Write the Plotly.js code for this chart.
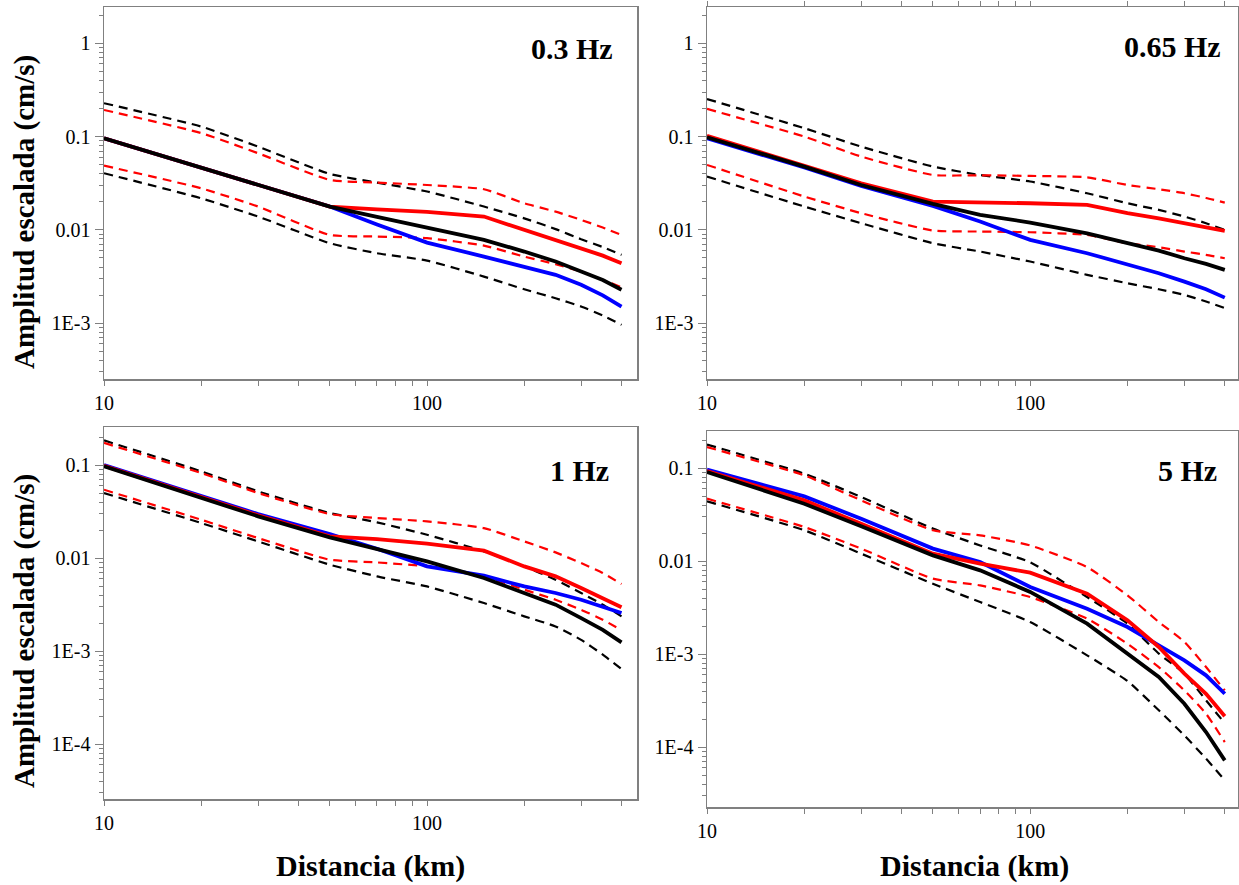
<!DOCTYPE html>
<html>
<head>
<meta charset="utf-8">
<script src="https://cdn.plot.ly/plotly-3.0.1.min.js"></script>
<style>html,body{margin:0;padding:0;background:#fff;}#chart{width:1239px;height:885px;}</style>
</head>
<body>
<div id="chart"></div>
<script>
// Distances (km)
const distance = [10, 20, 30, 50, 70, 100, 150, 200, 250, 300, 350, 400];

// 0.3 Hz
const f03_black   = [0.096, 0.0466, 0.0303, 0.0178, 0.0138, 0.0106, 0.00782, 0.00586, 0.00458, 0.00358, 0.00290, 0.00228];
const f03_blue    = [0.096, 0.0466, 0.0303, 0.0178, 0.0114, 0.0073, 0.00518, 0.00405, 0.0033, 0.00258, 0.00199, 0.00151];
const f03_red     = [0.096, 0.0466, 0.0303, 0.0178, 0.0166, 0.0156, 0.0139, 0.0100, 0.00794, 0.00637, 0.0053, 0.0044];
const f03_blackUp = [0.228, 0.128, 0.0781, 0.0398, 0.0321, 0.0258, 0.0178, 0.0133, 0.0102, 0.00794, 0.00655, 0.0054];
const f03_blackLo = [0.0405, 0.0218, 0.0139, 0.0072, 0.00562, 0.00469, 0.00316, 0.00231, 0.00185, 0.00151, 0.00121, 0.00096];
const f03_redUp   = [0.193, 0.109, 0.0663, 0.0343, 0.0321, 0.0303, 0.0273, 0.0193, 0.0157, 0.0128, 0.0106, 0.00883];
const f03_redLo   = [0.0489, 0.0279, 0.0178, 0.00883, 0.00849, 0.00815, 0.00679, 0.00518, 0.00429, 0.00358, 0.00291, 0.00243];

// 0.65 Hz
const f065_black   = [0.0984, 0.0477, 0.0303, 0.019, 0.0145, 0.012, 0.0092, 0.0072, 0.006, 0.00497, 0.00432, 0.00373];
const f065_blue    = [0.096, 0.0466, 0.0296, 0.0181, 0.0123, 0.00782, 0.00562, 0.00422, 0.00343, 0.00279, 0.00231, 0.00188];
const f065_red     = [0.102, 0.0489, 0.0316, 0.0201, 0.0198, 0.0193, 0.0185, 0.0151, 0.0133, 0.0118, 0.0106, 0.00975];
const f065_blackUp = [0.253, 0.123, 0.0781, 0.0477, 0.0388, 0.033, 0.0247, 0.0193, 0.0164, 0.0139, 0.0118, 0.0100];
const f065_blackLo = [0.0373, 0.0178, 0.0118, 0.0072, 0.00586, 0.00458, 0.0033, 0.00268, 0.00231, 0.00201, 0.00171, 0.00145];
const f065_redUp   = [0.198, 0.100, 0.0611, 0.0388, 0.0385, 0.0379, 0.0366, 0.0303, 0.0273, 0.0247, 0.022, 0.0196];
const f065_redLo   = [0.0497, 0.0228, 0.0151, 0.00984, 0.0096, 0.00944, 0.00883, 0.0072, 0.00652, 0.00586, 0.0054, 0.00497];

// 1 Hz
const f1_black   = [0.0968, 0.0442, 0.0281, 0.0167, 0.0126, 0.0092, 0.0061, 0.00421, 0.00315, 0.00226, 0.00169, 0.00124];
const f1_blue    = [0.100, 0.0468, 0.0297, 0.0181, 0.0126, 0.00813, 0.00646, 0.00495, 0.00421, 0.00356, 0.00302, 0.00256];
const f1_red     = [0.0984, 0.0453, 0.0288, 0.0171, 0.016, 0.0143, 0.012, 0.00813, 0.00635, 0.00475, 0.00372, 0.00295];
const f1_blackUp = [0.184, 0.0855, 0.0521, 0.0305, 0.0242, 0.0178, 0.0118, 0.00813, 0.00585, 0.00421, 0.00315, 0.00236];
const f1_blackLo = [0.050, 0.0238, 0.0151, 0.00848, 0.00635, 0.00495, 0.00328, 0.00236, 0.00184, 0.00132, 0.000914, 0.00064];
const f1_redUp   = [0.173, 0.082, 0.050, 0.0297, 0.0269, 0.0248, 0.021, 0.0151, 0.0115, 0.00883, 0.0069, 0.00525];
const f1_redLo   = [0.0543, 0.0258, 0.0164, 0.0096, 0.00897, 0.00813, 0.00635, 0.00457, 0.00356, 0.00278, 0.00217, 0.00167];

// 5 Hz
const f5_black   = [0.0906, 0.0413, 0.0236, 0.0115, 0.00794, 0.00465, 0.00212, 0.00101, 0.000566, 0.000292, 0.000145, 0.0000719];
const f5_blue    = [0.096, 0.0495, 0.0285, 0.0136, 0.00975, 0.00525, 0.00307, 0.00195, 0.00124, 0.000855, 0.00059, 0.000374];
const f5_red     = [0.0929, 0.0449, 0.0252, 0.012, 0.00935, 0.0075, 0.00446, 0.0023, 0.00119, 0.000615, 0.000374, 0.000214];
const f5_blackUp = [0.179, 0.0869, 0.0488, 0.0223, 0.0147, 0.00968, 0.0041, 0.00212, 0.00101, 0.000615, 0.000318, 0.00018];
const f5_blackLo = [0.0439, 0.0214, 0.012, 0.0057, 0.00362, 0.00221, 0.000968, 0.000513, 0.000248, 0.000133, 0.0000749, 0.0000439];
const f5_redUp   = [0.168, 0.0834, 0.0449, 0.0214, 0.0189, 0.0147, 0.00861, 0.00428, 0.00221, 0.00135, 0.000724, 0.000406];
const f5_redLo   = [0.0468, 0.0232, 0.0136, 0.00646, 0.00547, 0.0041, 0.0024, 0.00129, 0.000724, 0.000406, 0.000228, 0.000113];

const panelLabels = ['0.3 Hz', '0.65 Hz', '1 Hz', '5 Hz'];
const xTickVals = [10, 100];
const xTickText = ['10', '100'];
const xMinorVals = [20, 30, 40, 50, 60, 70, 80, 90, 200, 300, 400];
const yTickValsTop = [1, 0.1, 0.01, 0.001];
const yTickTextTop = ['1', '0.1', '0.01', '1E-3'];
const yTickValsBot = [0.1, 0.01, 0.001, 0.0001];
const yTickTextBot = ['0.1', '0.01', '1E-3', '1E-4'];
const yMinorVals = [];
[1e-5, 1e-4, 1e-3, 1e-2, 1e-1, 1].forEach(d => { for (let k = 2; k <= 9; k++) yMinorVals.push(+(d * k).toPrecision(3)); });

const panels = [
  {sets: [f03_black, f03_blue, f03_red, f03_blackUp, f03_blackLo, f03_redUp, f03_redLo]},
  {sets: [f065_black, f065_blue, f065_red, f065_blackUp, f065_blackLo, f065_redUp, f065_redLo]},
  {sets: [f1_black, f1_blue, f1_red, f1_blackUp, f1_blackLo, f1_redUp, f1_redLo]},
  {sets: [f5_black, f5_blue, f5_red, f5_blackUp, f5_blackLo, f5_redUp, f5_redLo]}
];

const W = 1239, H = 885;
// pixel geometry of each plot frame
const frames = [
  {l: 104, r: 637, t: 7, b: 379},
  {l: 707, r: 1238, t: 7, b: 379},
  {l: 104, r: 637, t: 427, b: 799},
  {l: 707, r: 1238, t: 431, b: 807}
];
const xRanges = [[1, 2.650], [1, 2.643], [1, 2.650], [1, 2.643]];
const yRanges = [[-3.598, 0.389], [-3.598, 0.389], [-4.591, -0.591], [-4.645, -0.602]];

const traces = [];
const FRAME = '#808080';
panels.forEach((p, i) => {
  const xa = i === 0 ? 'x' : 'x' + (i + 1);
  const ya = i === 0 ? 'y' : 'y' + (i + 1);
  const [bk, bl, rd, bkU, bkL, rdU, rdL] = p.sets;
  const dashed = [[bkU, 'black'], [bkL, 'black'], [rdU, 'red'], [rdL, 'red']];
  dashed.forEach(([v, c]) => traces.push({x: distance, y: v, xaxis: xa, yaxis: ya, mode: 'lines',
    line: {color: c === 'red' ? '#ff0000' : '#000000', width: 2.2, dash: '9px,6px', shape: 'spline', smoothing: 0.5}, hoverinfo: 'skip', showlegend: false}));
  traces.push({x: distance, y: bl, xaxis: xa, yaxis: ya, mode: 'lines', line: {color: '#0000ff', width: 3.8}, showlegend: false});
  traces.push({x: distance, y: rd, xaxis: xa, yaxis: ya, mode: 'lines', line: {color: '#ff0000', width: 3.8}, showlegend: false});
  traces.push({x: distance, y: bk, xaxis: xa, yaxis: ya, mode: 'lines', line: {color: '#000000', width: 3.8}, showlegend: false});
});

const tickFont = {family: 'Liberation Serif, Times New Roman, serif', size: 20, color: '#000'};
const layout = {
  width: W, height: H,
  margin: {l: 0, r: 0, t: 0, b: 0},
  paper_bgcolor: '#fff', plot_bgcolor: '#fff',
  showlegend: false,
  annotations: [],
};
frames.forEach((f, i) => {
  const sfx = i === 0 ? '' : String(i + 1);
  const top = i < 2;
  layout['xaxis' + sfx] = {
    type: 'log', range: xRanges[i],
    domain: [f.l / W, f.r / W],
    anchor: 'y' + sfx,
    showgrid: false, zeroline: false,
    showline: true, linecolor: FRAME, linewidth: 1.5, mirror: i === 1 ? 'ticks' : true,
    ticks: 'outside', ticklen: 5, tickcolor: FRAME, tickwidth: 1,
    tickmode: 'array', tickvals: xTickVals, ticktext: xTickText,
    tickfont: tickFont,
    minor: {tickmode: 'array', tickvals: xMinorVals, ticks: 'outside', ticklen: 5, tickcolor: FRAME, tickwidth: 1, showgrid: false},
  };
  layout['yaxis' + sfx] = {
    type: 'log', range: yRanges[i],
    domain: [1 - f.b / H, 1 - f.t / H],
    anchor: 'x' + sfx,
    showgrid: false, zeroline: false,
    showline: true, linecolor: FRAME, linewidth: 1.5, mirror: true,
    ticks: 'outside', ticklen: 8, tickcolor: FRAME, tickwidth: 1,
    tickmode: 'array', tickvals: top ? yTickValsTop : yTickValsBot, ticktext: top ? yTickTextTop : yTickTextBot,
    tickfont: tickFont,
    minor: {tickmode: 'array', tickvals: yMinorVals, ticks: 'outside', ticklen: 4, tickcolor: FRAME, tickwidth: 1, showgrid: false},
  };
});

// Panel frequency labels
const labelPos = [[615, 48], [1223, 46], [611, 470], [1219, 470]];
panelLabels.forEach((t, i) => {
  layout.annotations.push({text: '<b>' + t + '</b>', xref: 'paper', yref: 'paper',
    x: labelPos[i][0] / W, y: 1 - labelPos[i][1] / H, xanchor: 'right', yanchor: 'middle', showarrow: false,
    font: {family: 'Liberation Serif, Times New Roman, serif', size: 30, color: '#000'}});
});
// Axis titles
const titleFont = {family: 'Liberation Serif, Times New Roman, serif', size: 29, color: '#000'};
[[24, 212], [24, 631]].forEach(([px, py]) => layout.annotations.push({text: '<b>Amplitud escalada (cm/s)</b>',
  xref: 'paper', yref: 'paper', x: px / W, y: 1 - py / H, xanchor: 'center', yanchor: 'middle', textangle: -90,
  showarrow: false, font: titleFont}));
[[370, 866], [974, 866]].forEach(([px, py]) => layout.annotations.push({text: '<b>Distancia (km)</b>',
  xref: 'paper', yref: 'paper', x: px / W, y: 1 - py / H, xanchor: 'center', yanchor: 'middle',
  showarrow: false, font: {family: 'Liberation Serif, Times New Roman, serif', size: 30, color: '#000'}}));

Plotly.newPlot('chart', traces, layout, {staticPlot: true, displayModeBar: false});
</script>
</body>
</html>
